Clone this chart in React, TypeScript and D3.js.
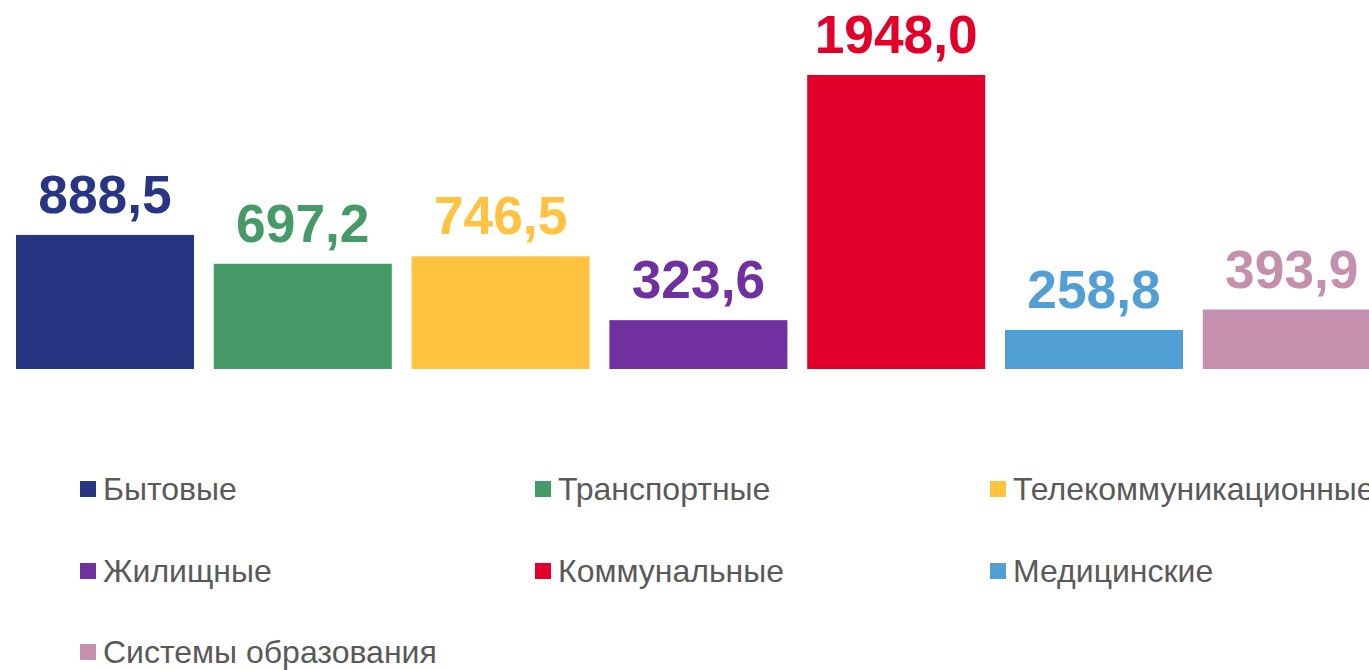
import React from "react";
import * as d3 from "d3";

const categories = [
  "Бытовые",
  "Транспортные",
  "Телекоммуникационные",
  "Жилищные",
  "Коммунальные",
  "Медицинские",
  "Системы образования",
];
const values = [888.5, 697.2, 746.5, 323.6, 1948.0, 258.8, 393.9];
const colors = ["#283583", "#469A67", "#FFC340", "#7030A0", "#E2002B", "#529FD6", "#C58FAE"];

const W = 1369;
const H = 670;

export default function App() {
  const x = d3
    .scaleBand<string>()
    .domain(categories)
    .range([6.1, 6.1 + 7 * 197.8])
    .paddingInner(0.1)
    .paddingOuter(0.05);
  const y = d3.scaleLinear().domain([0, d3.max(values)!]).range([369, 75]);
  const fmt = (v: number) => d3.format(".1f")(v).replace(".", ",");

  const legendCols = [80, 535, 990];
  const legendRows = [500, 582, 663];

  return (
    <svg
      width={W}
      height={H}
      style={{ position: "absolute", left: 0, top: 0, background: "#fff" }}
      fontFamily="'Liberation Sans', Arial, sans-serif"
    >
      {categories.map((c, i) => (
        <g key={c}>
          <rect
            x={x(c)}
            y={y(values[i])}
            width={x.bandwidth()}
            height={y(0) - y(values[i])}
            fill={colors[i]}
          />
          <text
            x={x(c)! + x.bandwidth() / 2}
            y={y(values[i]) - 22}
            textAnchor="middle"
            fontSize={53.3}
            fontWeight="bold"
            fill={colors[i]}
          >
            {fmt(values[i])}
          </text>
        </g>
      ))}
      {categories.map((c, i) => {
        const lx = legendCols[i % 3];
        const ly = legendRows[Math.floor(i / 3)];
        return (
          <g key={"l" + c}>
            <rect x={lx} y={ly - 19} width={16} height={16} fill={colors[i]} />
            <text x={lx + 23} y={ly} fontSize={32} fill="#595959">
              {c}
            </text>
          </g>
        );
      })}
    </svg>
  );
}
